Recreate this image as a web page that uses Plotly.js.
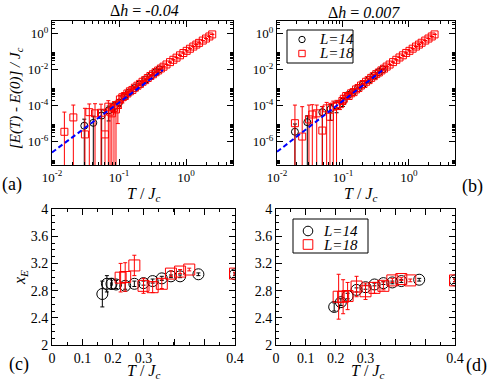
<!DOCTYPE html>
<html>
<head>
<meta charset="utf-8">
<script src="https://cdn.plot.ly/plotly-3.0.1.min.js"></script>
<style>
    html, body { margin: 0; padding: 0; background: #fff; }
    #chart { width: 490px; height: 382px; }
</style>
</head>
<body>
<div id="chart"></div>
<script>
// ---- panel (a): dh = -0.04, energy vs temperature ----
const a14T = [0.0303, 0.0413, 0.055, 0.07, 0.085, 0.1, 0.12, 0.14, 0.17, 0.2, 0.25, 0.3, 0.35, 0.4];
const a14E = [7.6e-6, 1.1e-5, 2.8e-5, 5.4e-5, 9.3e-5, 1.5e-4, 3.2e-4, 5.4e-4, 9.3e-4, 1.5e-3, 2.8e-3, 4.6e-3, 7.1e-3, 1.02e-2];
const a14Err = [1.0e-5, 1.5e-5, 3.0e-5, 4.0e-5, 5.0e-5, 6.0e-5, 8.0e-5, 1.0e-4, 1.0e-4, 1.5e-4, 2.0e-4, 2.5e-4, 3.0e-4, 4.0e-4];

const a18T = [0.0153, 0.0208, 0.031, 0.036, 0.0438, 0.0538, 0.0617, 0.0692, 0.0733, 0.078, 0.084, 0.09, 0.096,
    0.103, 0.112, 0.122, 0.133, 0.145, 0.158, 0.172, 0.188, 0.205, 0.224, 0.245, 0.268, 0.293, 0.32, 0.35,
    0.383, 0.42, 0.46, 0.51, 0.575, 0.645, 0.72, 0.81, 0.91, 1.02, 1.14, 1.28, 1.42, 1.56, 1.77, 1.98, 2.22, 2.45];
const a18E = [3.5e-6, 2.2e-5, 2.5e-6, 4.3e-5, 3.7e-5, 4.0e-5, 2.5e-6, 8.7e-5, 4.6e-5, 3.7e-5, 7.5e-5, 6.1e-5, 1.1e-4,
    2.2e-4, 2.9e-4, 3.4e-4, 4.7e-4, 6.2e-4, 7.4e-4, 9.9e-4, 1.27e-3, 1.6e-3, 2.1e-3, 2.6e-3, 3.4e-3, 4.4e-3, 5.5e-3, 7.1e-3,
    8.9e-3, 1.15e-2, 1.45e-2, 1.92e-2, 2.6e-2, 3.5e-2, 4.6e-2, 6.2e-2, 8.3e-2, 0.11, 0.144, 0.19, 0.245, 0.305, 0.41, 0.53, 0.69, 0.9];
const a18Err = [4.0e-5, 8.5e-5, 6.8e-5, 8.0e-5, 9.0e-5, 8.0e-5, 5.0e-5, 1.0e-4, 8.0e-5, 7.0e-5, 9.0e-5, 8.0e-5, 1.0e-4,
    1.5e-4, 1.5e-4, 1.4e-4, 1.5e-4, 1.4e-4, 1.3e-4, 1.2e-4, 1.0e-4, 1.0e-4, 1.0e-4, 1.0e-4, 1.0e-4, 1.0e-4, 1.0e-4, 1.0e-4,
    1.0e-4, 1.0e-4, 1.0e-4, 1.0e-4, 1.0e-4, 1.0e-4, 1.0e-4, 1.0e-4, 1.0e-4, 1.0e-4, 1.0e-4, 1.0e-4, 1.0e-4, 1.0e-4, 1.0e-4, 1.0e-4, 1.0e-4, 1.0e-4];

const aFitT = [0.01, 0.45];
const aFitE = [2.5e-7, 9.5e-3];

// ---- panel (b): dh = 0.007 ----
const b14T = [0.0187, 0.0288, 0.0487, 0.065, 0.08, 0.1, 0.12, 0.14, 0.17, 0.2, 0.25, 0.3, 0.35, 0.4];
const b14E = [3.5e-6, 1.2e-5, 4.3e-5, 6.5e-5, 1.0e-4, 1.7e-4, 3.9e-4, 5.5e-4, 9.5e-4, 1.5e-3, 2.8e-3, 4.7e-3, 7.2e-3, 1.03e-2];
const b14Err = [6.0e-6, 1.5e-5, 4.5e-5, 5.0e-5, 6.0e-5, 8.0e-5, 1.0e-4, 1.0e-4, 1.0e-4, 1.5e-4, 2.0e-4, 2.5e-4, 3.0e-4, 4.0e-4];

const b18T = [0.0187, 0.0241, 0.0305, 0.0343, 0.040, 0.0487, 0.0566, 0.0635, 0.0713, 0.080, 0.090, 0.098,
    0.103, 0.112, 0.122, 0.133, 0.145, 0.158, 0.172, 0.188, 0.205, 0.224, 0.245, 0.268, 0.293, 0.32, 0.35,
    0.383, 0.42, 0.46, 0.51, 0.575, 0.645, 0.72, 0.81, 0.91, 1.02, 1.14, 1.28, 1.42, 1.56, 1.77, 1.98, 2.22, 2.45];
const b18E = [1.05e-5, 1.9e-6, 1.7e-5, 3.2e-5, 3.7e-5, 4.1e-6, 7.0e-5, 2.4e-5, 8.7e-5, 9.5e-5, 1.2e-4, 1.8e-4,
    2.4e-4, 3.4e-4, 3.4e-4, 4.8e-4, 5.6e-4, 7.9e-4, 9.5e-4, 1.3e-3, 1.58e-3, 2.1e-3, 2.6e-3, 3.45e-3, 4.3e-3, 5.6e-3, 6.9e-3,
    9.0e-3, 1.13e-2, 1.47e-2, 1.9e-2, 2.6e-2, 3.5e-2, 4.7e-2, 6.2e-2, 8.4e-2, 0.11, 0.145, 0.19, 0.245, 0.31, 0.41, 0.53, 0.69, 0.9];
const b18Err = [9.6e-5, 8.5e-5, 9.0e-5, 8.0e-5, 7.0e-5, 8.5e-5, 8.0e-5, 1.0e-4, 9.0e-5, 1.0e-4, 6.0e-5, 5.0e-5,
    1.2e-4, 1.2e-4, 1.1e-4, 1.0e-4, 1.0e-4, 1.0e-4, 1.0e-4, 1.0e-4, 1.0e-4, 1.0e-4, 1.0e-4, 1.0e-4, 1.0e-4, 1.0e-4, 1.0e-4,
    1.0e-4, 1.0e-4, 1.0e-4, 1.0e-4, 1.0e-4, 1.0e-4, 1.0e-4, 1.0e-4, 1.0e-4, 1.0e-4, 1.0e-4, 1.0e-4, 1.0e-4, 1.0e-4, 1.0e-4, 1.0e-4, 1.0e-4, 1.0e-4];

const bFitT = [0.01, 0.43];
const bFitE = [2.7e-7, 1.15e-2];

// ---- panel (c): exponent x_E, dh = -0.04 ----
const c14T = [0.11, 0.12, 0.13, 0.14, 0.16, 0.18, 0.20, 0.22, 0.24, 0.26, 0.28, 0.32, 0.40];
const c14X = [2.75, 2.90, 2.90, 2.89, 2.87, 2.90, 2.91, 2.94, 2.98, 3.01, 3.01, 3.04, 3.04];
const c14Err = [0.19, 0.12, 0.08, 0.06, 0.05, 0.04, 0.03, 0.03, 0.03, 0.02, 0.02, 0.02, 0.02];
const c18T = [0.15, 0.16, 0.18, 0.20, 0.22, 0.24, 0.26, 0.28, 0.30, 0.40];
const c18X = [2.99, 3.00, 3.17, 2.87, 2.85, 2.90, 3.05, 3.08, 3.11, 3.05];
const c18Err = [0.21, 0.21, 0.15, 0.11, 0.08, 0.07, 0.04, 0.03, 0.02, 0.02];

// ---- panel (d): exponent x_E, dh = 0.007 ----
const d14T = [0.13, 0.145, 0.16, 0.18, 0.20, 0.22, 0.24, 0.26, 0.28, 0.32, 0.40];
const d14X = [2.56, 2.63, 2.72, 2.81, 2.85, 2.89, 2.91, 2.92, 2.94, 2.96, 2.95];
const d14Err = [0.06, 0.05, 0.04, 0.03, 0.03, 0.02, 0.02, 0.02, 0.02, 0.02, 0.02];
const d18T = [0.14, 0.15, 0.16, 0.18, 0.20, 0.22, 0.24, 0.26, 0.28, 0.30, 0.40];
const d18X = [2.71, 2.71, 2.72, 2.86, 2.79, 2.84, 2.87, 2.95, 2.97, 2.95, 2.95];
const d18Err = [0.33, 0.25, 0.20, 0.15, 0.12, 0.08, 0.06, 0.03, 0.02, 0.02, 0.02];

// tick labels
const logXTicks = [0.01, 0.1, 1];
const logXText = ['10<sup>-2</sup>', '10<sup>-1</sup>', '10<sup>0</sup>'];
const logYTicks = [1e-6, 1e-4, 1e-2, 1];
const logYText = ['10<sup>-6</sup>', '10<sup>-4</sup>', '10<sup>-2</sup>', '10<sup>0</sup>'];
const linXTicks = [0, 0.0667, 0.1333, 0.2, 0.2667, 0.3333, 0.4];
const linXText = ['0', '0.1', '0.2', '0.3', '', '', '0.4'];
const seriesNames = ['<i>L=14</i>', '<i>L=18</i>'];

const FONT = "'Liberation Serif', 'Times New Roman', serif";
const W = 490, H = 382;
const RED = '#ff0000', BLACK = '#000000';

// minor ticks at 2..9 times each given power of ten
function minorLog(powers) {
    const out = [];
    powers.forEach(p => {
        for (let k = 2; k <= 9; k++) out.push(k * Math.pow(10, p));
    });
    return out;
}

function axisBase(extra) {
    return Object.assign({
        showline: true, linecolor: '#000', linewidth: 1, mirror: 'allticks',
        ticks: 'inside', ticklen: 6, tickwidth: 1, tickcolor: '#000',
        showgrid: false, zeroline: false, fixedrange: true,
        tickfont: { family: FONT, size: 13, color: '#000' }
    }, extra);
}

function logX(domain, anchor) {
    return axisBase({
        type: 'log', range: [-2, Math.log10(5)], domain: domain, anchor: anchor,
        tickmode: 'array', tickvals: logXTicks, ticktext: logXText,
        minor: { tickmode: 'array', tickvals: minorLog([-2, -1, 0]), ticks: 'inside', ticklen: 3, tickcolor: '#000' }
    });
}

function logY(domain, anchor) {
    return axisBase({
        type: 'log', range: [Math.log10(5e-8), Math.log10(5)], domain: domain, anchor: anchor,
        tickmode: 'array', tickvals: logYTicks, ticktext: logYText,
        minor: { tickmode: 'array', tickvals: minorLog([-8, -6, -4, -2, 0]), ticks: 'inside', ticklen: 3, tickcolor: '#000' }
    });
}

function linX(domain, anchor) {
    return axisBase({
        range: [0, 0.4], domain: domain, anchor: anchor,
        tickmode: 'array', tickvals: linXTicks, ticktext: linXText,
        tickfont: { family: FONT, size: 14, color: '#000' },
        minor: { dtick: 0.03333, tick0: 0, ticks: 'inside', ticklen: 3, tickcolor: '#000' }
    });
}

function linY(domain, anchor) {
    return axisBase({
        range: [2, 4], domain: domain, anchor: anchor, dtick: 0.4, tick0: 2,
        tickfont: { family: FONT, size: 14, color: '#000' },
        minor: { dtick: 0.1, ticks: 'inside', ticklen: 3, tickcolor: '#000' }
    });
}

function pts(x, y, err, color, symbol, size, xa, ya) {
    return {
        x: x, y: y, type: 'scatter', mode: 'markers', xaxis: xa, yaxis: ya, showlegend: false,
        marker: { symbol: symbol, size: size, color: color, line: { color: color, width: 1 } },
        error_y: { type: 'data', array: err, visible: true, color: color, thickness: 1, width: 2 }
    };
}

function fit(x, y, xa, ya) {
    return {
        x: x, y: y, type: 'scatter', mode: 'lines', xaxis: xa, yaxis: ya, showlegend: false,
        line: { color: '#0000ff', width: 2, dash: '5px,3px' }
    };
}

// text placed in pixel coordinates of the 490x382 picture
function note(text, x, y, size, extra) {
    return Object.assign({
        text: text, x: x / W, y: 1 - y / H, xref: 'paper', yref: 'paper',
        showarrow: false, xanchor: 'center', yanchor: 'middle',
        font: { family: FONT, size: size, color: '#000' }
    }, extra || {});
}

function box(type, x0, y0, x1, y1, color) {
    return {
        type: type, xref: 'paper', yref: 'paper',
        x0: x0 / W, x1: x1 / W, y0: 1 - y0 / H, y1: 1 - y1 / H,
        line: { color: color, width: 1 }, fillcolor: type === 'rect' && color === BLACK ? '#fff' : 'rgba(0,0,0,0)'
    };
}

// hand-drawn legend (box, symbols, labels) like the original figure
function legendParts(left, top, right, bottom, symX, symR, rows, textX, size) {
    const shapes = [
        box('rect', left, top, right, bottom, BLACK),
        box('circle', symX - symR, rows[0] - symR, symX + symR, rows[0] + symR, BLACK),
        box('rect', symX - symR, rows[1] - symR, symX + symR, rows[1] + symR, RED)
    ];
    const notes = [
        note(seriesNames[0], textX, rows[0], size),
        note(seriesNames[1], textX, rows[1], size)
    ];
    return { shapes, notes };
}

const traces = [
    pts(a14T, a14E, a14Err, BLACK, 'circle-open', 7, 'x', 'y'),
    pts(a18T, a18E, a18Err, RED, 'square-open', 7, 'x', 'y'),
    fit(aFitT, aFitE, 'x', 'y'),
    pts(b14T, b14E, b14Err, BLACK, 'circle-open', 7, 'x2', 'y2'),
    pts(b18T, b18E, b18Err, RED, 'square-open', 7, 'x2', 'y2'),
    fit(bFitT, bFitE, 'x2', 'y2'),
    pts(c14T, c14X, c14Err, BLACK, 'circle-open', 11, 'x3', 'y3'),
    pts(c18T, c18X, c18Err, RED, 'square-open', 11, 'x3', 'y3'),
    pts(d14T, d14X, d14Err, BLACK, 'circle-open', 11, 'x4', 'y4'),
    pts(d18T, d18X, d18Err, RED, 'square-open', 11, 'x4', 'y4')
];

const legB = legendParts(287, 30, 353, 63, 302, 3.2, [39.5, 53.5], 336, 15);
const legD = legendParts(293, 219, 368, 253, 308, 4.8, [231, 244.5], 340, 15);

const topDom = [1 - 165 / H, 1 - 21 / H];
const botDom = [1 - 345 / H, 1 - 209 / H];

const layout = {
    width: W, height: H,
    margin: { l: 0, r: 0, t: 0, b: 0 },
    paper_bgcolor: '#fff', plot_bgcolor: '#fff',
    font: { family: FONT, size: 13, color: '#000' },
    showlegend: false,
    xaxis: logX([52 / W, 233 / W], 'y'),
    yaxis: logY(topDom, 'x'),
    xaxis2: logX([277 / W, 455 / W], 'y2'),
    yaxis2: logY(topDom, 'x2'),
    xaxis3: linX([52 / W, 235 / W], 'y3'),
    yaxis3: linY(botDom, 'x3'),
    xaxis4: linX([276 / W, 455 / W], 'y4'),
    yaxis4: linY(botDom, 'x4'),
    shapes: legB.shapes.concat(legD.shapes),
    annotations: [
        note('\u0394<i>h</i> = <i>-0.04</i>', 144, 11, 16),
        note('\u0394<i>h</i> = <i>0.007</i>', 364, 12, 16),
        note('(a)', 12, 185, 18),
        note('(b)', 472, 186, 18),
        note('(c)', 19, 364, 18),
        note('(d)', 476, 365, 18),
        note('<i>T</i> / <i>J</i><sub><i>c</i></sub>', 143, 194, 16),
        note('<i>T</i> / <i>J</i><sub><i>c</i></sub>', 360, 194, 16),
        note('<i>T</i> / <i>J</i><sub><i>c</i></sub>', 143, 371, 16),
        note('<i>T</i> / <i>J</i><sub><i>c</i></sub>', 367, 371, 16),
        note('<i>[E(T) - E(0)] / J</i><sub><i>c</i></sub>', 16, 98, 15, { textangle: -90 }),
        note('<i>x</i><sub><i>E</i></sub>', 20, 278, 16, { textangle: -90 })
    ].concat(legB.notes, legD.notes)
};

Plotly.newPlot('chart', traces, layout, { displayModeBar: false, staticPlot: true });
</script>
</body>
</html>
